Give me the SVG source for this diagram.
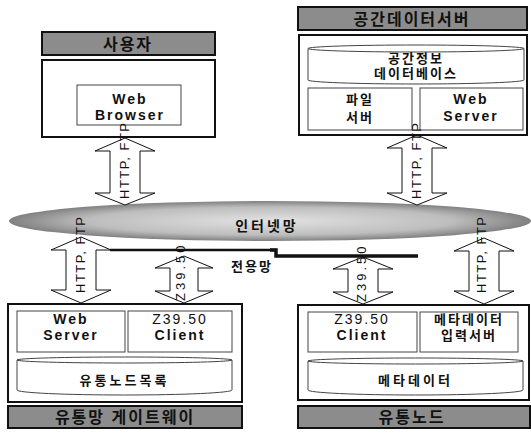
<svg xmlns="http://www.w3.org/2000/svg" width="531" height="435" viewBox="0 0 531 435">
<defs>
<radialGradient id="net" cx="0.5" cy="0.5" r="0.5">
<stop offset="0" stop-color="#e2e2e2"/>
<stop offset="0.7" stop-color="#bdbdbd"/>
<stop offset="1" stop-color="#808080"/>
</radialGradient>
<style>
.t{font-family:"Liberation Sans","Noto Sans CJK KR",sans-serif;fill:#111;text-anchor:middle}
.b{font-weight:bold;font-size:14px;letter-spacing:2px}
.bt{font-weight:bold;font-size:16px;letter-spacing:2px}
.ban{fill:#8c8c8c;stroke:#111;stroke-width:2}
.outer{fill:#fff;stroke:#111;stroke-width:2}
.inner{fill:#fff;stroke:#444;stroke-width:1}
.arr{fill:#fff;stroke:#111;stroke-width:1}
.lab{font-family:"Liberation Sans","Noto Sans CJK KR",sans-serif;font-size:13px;fill:#111;letter-spacing:1.5px}
</style>
</defs>
<rect width="531" height="435" fill="#fff"/>

<g id="network">
<ellipse cx="270" cy="221" rx="261" ry="20" fill="url(#net)"/>
<text class="t b" x="267" y="231" style="letter-spacing:3px">인터넷망</text>
</g>

<g id="connectors">
<polygon class="arr" points="125,138 155,151 140,151 140,193 155,193 125,205 95,193 110,193 110,151 95,151"/>
<polygon class="arr" points="417,135 447,148 432,148 432,193 447,193 417,205 387,193 402,193 402,148 387,148"/>
<polygon class="arr" points="81,237 111,250 96,250 96,290 111,290 81,303 51,290 66,290 66,250 51,250"/>
<polygon class="arr" points="184,256 213,268 198,268 198,291 213,291 184,303 155,291 170,291 170,268 155,268"/>
<polygon class="arr" points="363,257 393,269 378,269 378,292 393,292 363,304 333,292 348,292 348,269 333,269"/>
<polygon class="arr" points="484,238 514,251 499,251 499,291 514,291 484,304 454,291 469,291 469,251 454,251"/>
<polyline points="110,250 276,250" fill="none" stroke="#111" stroke-width="2.5"/>
<polyline points="270,250 276,250 276,256 418,256" fill="none" stroke="#111" stroke-width="3.5"/>
<text class="t b" x="252" y="271" style="font-size:13px">전용망</text>
</g>

<g id="user">
<rect class="ban" x="42" y="32" width="173" height="23"/>
<text class="t bt" x="128" y="49.5">사용자</text>
<rect class="outer" x="42" y="60" width="173" height="77"/>
<g id="web-browser">
<rect class="inner" x="77" y="85" width="104" height="40"/>
<text class="t b" x="130" y="104">Web</text>
<text class="t b" x="130" y="120">Browser</text>
</g>
</g>

<g id="spatial-server">
<rect class="ban" x="298" y="7" width="229" height="23"/>
<text class="t bt" x="412" y="24.5">공간데이터서버</text>
<rect class="outer" x="299" y="35" width="228" height="100"/>
<g id="spatial-db">
<path class="inner" d="M308,48.5 L308,80 A108,4 0 0 0 524,80 L524,48.5 Z"/>
<ellipse class="inner" cx="416" cy="48.5" rx="108" ry="3.5"/>
<text class="t b" x="416" y="63" style="font-size:13px">공간정보</text>
<text class="t b" x="416" y="78" style="font-size:13px">데이터베이스</text>
</g>
<g id="file-server">
<rect class="inner" x="308" y="88" width="104" height="42"/>
<text class="t b" x="360" y="104" style="font-size:13px">파일</text>
<text class="t b" x="360" y="122" style="font-size:13px">서버</text>
</g>
<g id="web-server-top">
<rect class="inner" x="420" y="88" width="103" height="42"/>
<text class="t b" x="471" y="104">Web</text>
<text class="t b" x="471" y="121">Server</text>
</g>
</g>

<g id="gateway">
<rect class="outer" x="8" y="304" width="234" height="98"/>
<g id="web-server-bottom">
<rect class="inner" x="17" y="311" width="108" height="41"/>
<text class="t b" x="71" y="324">Web</text>
<text class="t b" x="71" y="340">Server</text>
</g>
<g id="z-client-left">
<rect class="inner" x="128" y="311" width="104" height="41"/>
<text class="t b" x="180" y="324" style="font-weight:normal">Z39.50</text>
<text class="t b" x="180" y="340">Client</text>
</g>
<g id="node-list">
<path class="inner" d="M17,360 L17,390 A107.5,5 0 0 0 232,390 L232,360 Z"/>
<ellipse class="inner" cx="124.5" cy="360" rx="107.5" ry="3"/>
<text class="t b" x="124.5" y="385" style="font-size:13px;letter-spacing:3px">유통노드목록</text>
</g>
<rect class="ban" x="8" y="406" width="234" height="22"/>
<text class="t bt" x="125" y="423">유통망 게이트웨이</text>
</g>

<g id="dist-node">
<rect class="outer" x="298" y="305" width="231" height="95"/>
<g id="z-client-right">
<rect class="inner" x="308" y="312" width="109" height="40"/>
<text class="t b" x="362" y="324" style="font-weight:normal">Z39.50</text>
<text class="t b" x="362" y="340">Client</text>
</g>
<g id="meta-input">
<rect class="inner" x="420" y="312" width="98" height="40"/>
<text class="t b" x="469" y="324" style="font-size:13px">메타데이터</text>
<text class="t b" x="469" y="340" style="font-size:13px">입력서버</text>
</g>
<g id="metadata">
<path class="inner" d="M308,361 L308,390 A107.5,5 0 0 0 523,390 L523,361 Z"/>
<ellipse class="inner" cx="415.5" cy="361" rx="107.5" ry="3"/>
<text class="t b" x="415.5" y="385" style="font-size:13px;letter-spacing:3px">메타데이터</text>
</g>
<rect class="ban" x="298" y="406" width="232" height="22"/>
<text class="t bt" x="412" y="423">유통노드</text>
</g>

<g id="connector-labels">
<text class="lab" transform="translate(129,199) rotate(-90)">HTTP, FTP</text>
<text class="lab" transform="translate(421,199) rotate(-90)">HTTP, FTP</text>
<text class="lab" transform="translate(85,293) rotate(-90)">HTTP, FTP</text>
<text class="lab" transform="translate(486,293) rotate(-90)">HTTP, FTP</text>
<text class="lab" transform="translate(185,301) rotate(-90)" style="letter-spacing:3px">Z39.50</text>
<text class="lab" transform="translate(366,302) rotate(-90)" style="letter-spacing:3px">Z39.50</text>
</g>
</svg>
